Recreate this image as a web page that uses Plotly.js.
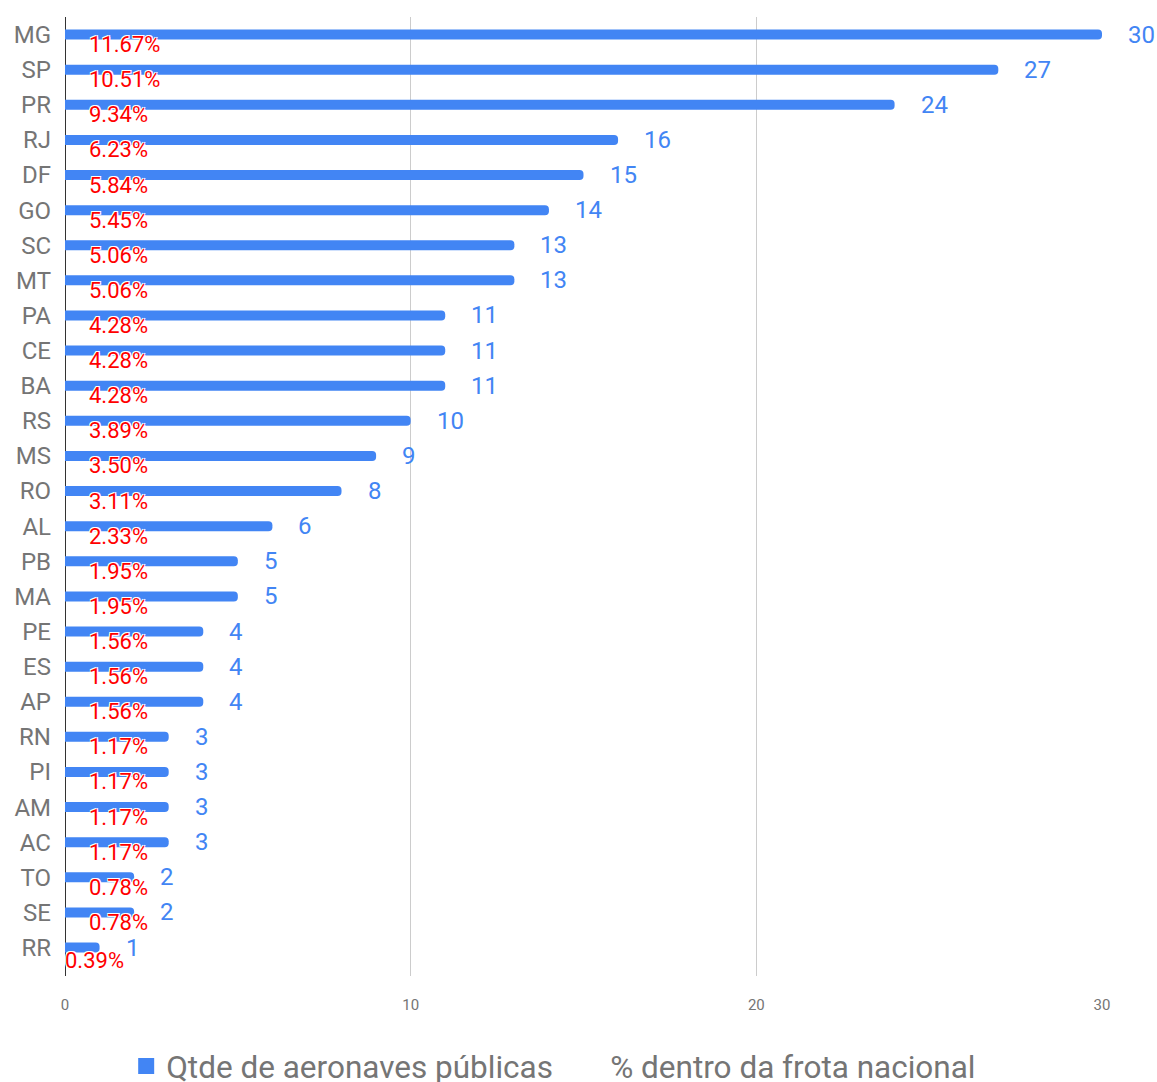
<!DOCTYPE html>
<html>
<head>
<meta charset="utf-8">
<script src="https://cdn.plot.ly/plotly-3.0.1.min.js"></script>
<style>html,body{margin:0;padding:0;background:#fff;}#chart{width:1157px;height:1082px;}</style>
</head>
<body>
<div id="chart"></div>
<script>
const states = ["MG","SP","PR","RJ","DF","GO","SC","MT","PA","CE","BA","RS","MS","RO","AL","PB","MA","PE","ES","AP","RN","PI","AM","AC","TO","SE","RR"];
const counts = [30,27,24,16,15,14,13,13,11,11,11,10,9,8,6,5,5,4,4,4,3,3,3,3,2,2,1];
const pcts = ["11.67%","10.51%","9.34%","6.23%","5.84%","5.45%","5.06%","5.06%","4.28%","4.28%","4.28%","3.89%","3.50%","3.11%","2.33%","1.95%","1.95%","1.56%","1.56%","1.56%","1.17%","1.17%","1.17%","1.17%","0.78%","0.78%","0.39%"];
const xTicks = [0,10,20,30];
const seriesNames = ["Qtde de aeronaves públicas","% dentro da frota nacional"];

const BLUE = "#4285F4";
const FONT = "Roboto, sans-serif";

const traces = [
  {
    type: "bar", orientation: "h", x: counts, y: states, name: seriesNames[0],
    marker: {color: BLUE, cornerradius: 4}, width: 0.285, hoverinfo: "skip", showlegend: false
  },
  {
    type: "scatter", mode: "markers", x: [null], y: [null], name: seriesNames[0],
    marker: {color: BLUE, symbol: "square", size: 16}, hoverinfo: "skip"
  },
  {
    type: "scatter", mode: "lines", x: [null], y: [null], name: seriesNames[1],
    line: {color: "rgba(0,0,0,0)", width: 0}, hoverinfo: "skip"
  }
];

const annotations = [];
states.forEach((s, i) => {
  annotations.push({
    x: counts[i], y: s, xref: "x", yref: "y", text: String(counts[i]),
    showarrow: false, xanchor: "left", yanchor: "middle", xshift: 24, yshift: 0,
    font: {family: FONT, size: 24, color: BLUE}
  });
  const last = i === states.length - 1;
  annotations.push({
    x: 0, y: s, xref: "x", yref: "y", text: pcts[i],
    showarrow: false, xanchor: "left", yanchor: "middle",
    xshift: last ? -2 : 22, yshift: last ? -13 : -10,
    font: {family: FONT, size: 22, color: "#FF0000",
      shadow: "white 1px 1px 0, white -1px -1px 0, white 1px -1px 0, white -1px 1px 0"}
  });
});

const layout = {
  width: 1157, height: 1082,
  margin: {l: 65, r: 55, t: 17, b: 106, pad: 0, autoexpand: false},
  paper_bgcolor: "#fff", plot_bgcolor: "#fff",
  font: {family: FONT, color: "#757575"},
  showlegend: true,
  legend: {
    orientation: "h", x: 0.059, xanchor: "left", y: -0.094, yanchor: "middle",
    entrywidth: 399, entrywidthmode: "pixels",
    font: {family: FONT, size: 31.5, color: "#757575"}, itemclick: false, itemdoubleclick: false
  },
  xaxis: {
    range: [0, 30], tickvals: xTicks, ticktext: xTicks.map(String),
    showgrid: true, gridcolor: "#cccccc", gridwidth: 1,
    zeroline: true, zerolinecolor: "#333333", zerolinewidth: 1,
    showline: false, ticks: "", ticklabelstandoff: 18,
    tickfont: {family: FONT, size: 15, color: "#757575"}, fixedrange: true
  },
  yaxis: {
    type: "category", autorange: false, range: [26.81, -0.5], showgrid: false, zeroline: false,
    showline: false, ticks: "", ticklabelstandoff: 13,
    tickfont: {family: FONT, size: 24, color: "#757575"}, fixedrange: true
  },
  annotations: annotations
};

Plotly.newPlot("chart", traces, layout, {displayModeBar: false, staticPlot: true});
</script>
</body>
</html>
